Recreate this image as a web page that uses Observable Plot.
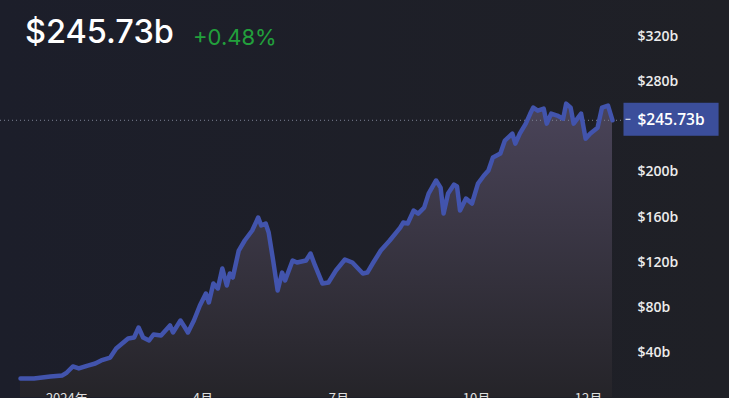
<!DOCTYPE html>
<html><head><meta charset="utf-8">
<script src="https://cdn.jsdelivr.net/npm/d3@7"></script>
<script src="https://cdn.jsdelivr.net/npm/@observablehq/plot@0.6"></script>
<style>
html,body{margin:0;padding:0;background:#1e1f27;overflow:hidden}
#wrap{position:relative;width:729px;height:398px;background:linear-gradient(to right,#1c1e2a,#1f2026)}
.hd{position:absolute;line-height:1;white-space:nowrap;font-family:Inter,"Noto Sans",sans-serif}
#big{left:25px;top:16px;font-size:32.5px;color:#ffffff;font-weight:500}
#chg{left:193px;top:26px;font-size:22px;color:#22a03c}
#chart{position:absolute;left:0;top:0}
</style></head>
<body><div id="wrap">
<div id="chart"></div>
<div class="hd" id="big">$245.73b</div>
<div class="hd" id="chg">+0.48%</div>
</div>
<script>
// market cap, billions USD
const dates = ["2023-12-01","2023-12-10","2023-12-21","2023-12-29","2024-01-01","2024-01-05","2024-01-09","2024-01-15","2024-01-20","2024-01-24","2024-01-30","2024-02-03","2024-02-11","2024-02-15","2024-02-18","2024-02-21","2024-02-25","2024-02-28","2024-03-04","2024-03-10","2024-03-12","2024-03-17","2024-03-20","2024-03-22","2024-03-26","2024-03-30","2024-04-03","2024-04-05","2024-04-08","2024-04-11","2024-04-14","2024-04-17","2024-04-19","2024-04-21","2024-04-25","2024-04-29","2024-05-04","2024-05-08","2024-05-10","2024-05-13","2024-05-15","2024-05-18","2024-05-21","2024-05-24","2024-05-26","2024-05-31","2024-06-03","2024-06-09","2024-06-12","2024-06-15","2024-06-20","2024-06-24","2024-06-29","2024-07-05","2024-07-10","2024-07-17","2024-07-20","2024-07-24","2024-07-29","2024-08-04","2024-08-11","2024-08-13","2024-08-16","2024-08-20","2024-08-23","2024-08-27","2024-08-30","2024-09-04","2024-09-07","2024-09-09","2024-09-12","2024-09-16","2024-09-18","2024-09-20","2024-09-24","2024-09-28","2024-10-02","2024-10-06","2024-10-09","2024-10-12","2024-10-17","2024-10-20","2024-10-25","2024-10-27","2024-10-30","2024-11-03","2024-11-06","2024-11-08","2024-11-11","2024-11-15","2024-11-17","2024-11-20","2024-11-24","2024-11-28","2024-11-30","2024-12-03","2024-12-05","2024-12-10","2024-12-13","2024-12-16","2024-12-21","2024-12-24","2024-12-28","2024-12-31"];
const values = [16.9,16.9,18.7,19.6,22.2,27.6,25.8,28.4,30.2,32.9,35.5,43.5,52.4,53.3,62.1,53.3,50.6,55.9,55.0,63.9,57.7,68.3,62.1,57.7,68.3,81.6,92.2,84.3,101.1,96.7,114.4,99.3,110.0,106.4,130.3,139.2,148.1,159.6,152.5,154.3,146.3,121.5,94.9,110.8,103.8,121.5,119.7,121.5,127.7,117.1,101.1,102.0,112.6,122.4,119.7,110.0,110.8,119.7,130.3,139.2,150.7,155.1,154.3,165.8,163.1,168.4,180.8,192.4,186.1,163.1,180.8,188.8,187.1,165.8,176.4,172.0,189.7,196.8,201.2,212.7,216.3,227.8,234.0,225.1,234.0,242.8,251.7,257.0,254.3,256.1,242.8,251.7,249.9,247.2,260.5,257.0,242.8,251.7,229.5,233.9,239.2,257.0,258.8,245.73];
const yTicks = [40,80,120,160,200,280,320];
const xTickDates = ["2024-01-01","2024-04-01","2024-07-01","2024-10-01","2024-12-15"];
const xTickLabels = ["2024年","4月","7月","10月","12月"];
const lastValue = 245.73;

const data = dates.map((d, i) => ({date: new Date(d), value: values[i]}));
const labelMap = new Map(xTickDates.map((d, i) => [+new Date(d), xTickLabels[i]]));

const plot = Plot.plot({
  width: 729, height: 398,
  marginLeft: 0, marginRight: 99, marginTop: 0, marginBottom: 8,
  style: {background: "transparent", color: "#d8d9de", fontFamily: "'Open Sans','Noto Sans CJK SC',sans-serif", overflow: "visible"},
  x: {type: "utc", domain: [new Date("2023-12-01"), new Date("2024-12-31")], range: [20, 612]},
  y: {domain: [0, 320], range: [397.1, 36]},
  marks: [
    Plot.areaY(data, {x: "date", y: "value", fill: "url(#areaGrad)"}),
    Plot.ruleY([lastValue], {stroke: "#7c8194", strokeDasharray: "1,3", strokeWidth: 1}),
    Plot.lineY(data, {x: "date", y: "value", stroke: "#4254ad", strokeWidth: 4.5, strokeLinejoin: "round", strokeLinecap: "round"}),
    Plot.axisY(yTicks, {anchor: "right", tickSize: 0, tickPadding: 7, tickFormat: d => `$${d}b`, fontSize: 14, fontWeight: 600, fill: "#ececec", label: null}),
    Plot.axisX(xTickDates.map(d => new Date(d)), {anchor: "bottom", tickSize: 0, tickPadding: 3, tickFormat: d => labelMap.get(+d), fontSize: 13, fill: "#e0e0e0", label: null, fontFamily: "'Noto Sans CJK SC',sans-serif"}),
    Plot.text([lastValue], {y: d => d, frameAnchor: "right", dx: 7, textAnchor: "start", text: d => `$${d}b`, fill: "#ffffff", fontSize: 15.5, fontWeight: 600, className: "lastlabel"})
  ]
});
document.getElementById("chart").appendChild(plot);

const svg = d3.select(plot);
svg.insert("defs", ":first-child").html(
  `<linearGradient id="areaGrad" x1="0" y1="0" x2="0" y2="1">
     <stop offset="0" stop-color="#4a4459"/>
     <stop offset="1" stop-color="#252429"/>
   </linearGradient>`);

const lbl = svg.select(".lastlabel text").node();
if (lbl) {
  const b = lbl.getBBox();
  const tf = lbl.getAttribute("transform") || "";
  const g = d3.select(lbl.parentNode);
  g.insert("rect", ":first-child")
    .attr("transform", tf)
    .attr("x", b.x - 14).attr("y", b.y - 5.5)
    .attr("width", b.width + 28).attr("height", b.height + 11)
    .attr("fill", "#3b4e9b");
  g.insert("line", "text")
    .attr("transform", tf)
    .attr("x1", b.x - 12).attr("x2", b.x - 7)
    .attr("y1", b.y + b.height / 2).attr("y2", b.y + b.height / 2)
    .attr("stroke", "#ffffff").attr("stroke-width", 1);
}
</script>
</body></html>
